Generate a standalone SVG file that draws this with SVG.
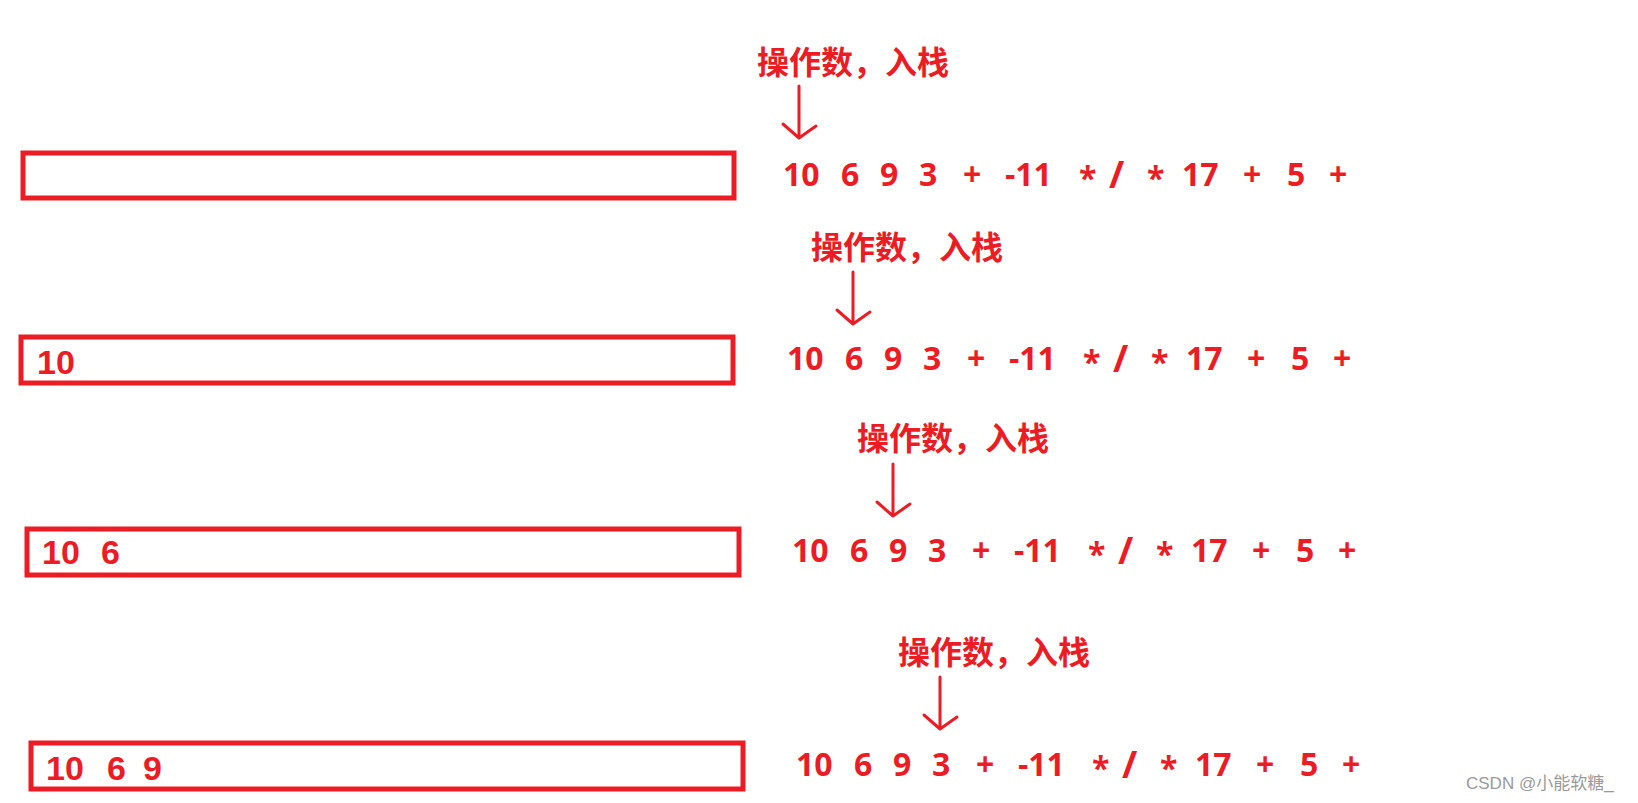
<svg xmlns="http://www.w3.org/2000/svg" xmlns:xlink="http://www.w3.org/1999/xlink" width="1638" height="803" viewBox="0 0 1638 803">
<style>
.box{fill:#fff;stroke:#ED1C24;stroke-width:5}
.lbl{font-family:"Noto Sans CJK SC","Microsoft YaHei",sans-serif;font-weight:bold;font-size:32px;fill:#ED1C24}
.ex{font-family:"Open Sans","Noto Sans",sans-serif;font-weight:bold;font-size:32px;fill:#ED1C24}
.sl{font-size:37px}
.st{font-family:"Liberation Sans",Arial,sans-serif;font-weight:bold;font-size:34px;fill:#ED1C24}
.arr{fill:none;stroke:#ED1C24;stroke-width:3;stroke-linecap:round;stroke-linejoin:round}
.wm{font-family:"Liberation Sans","Noto Sans CJK SC",sans-serif;font-size:17px;fill:#9a9a9a}
</style>
<defs>
<g id="expr" class="ex">
<text x="0" y="0">10</text>
<text x="58" y="0">6</text>
<text x="97" y="0">9</text>
<text x="136" y="0">3</text>
<text x="180" y="0">+</text>
<text x="222" y="0">-11</text>
<text x="296" y="4">*</text>
<text class="sl" x="326" y="2">/</text>
<text x="364" y="4">*</text>
<text x="399" y="0">17</text>
<text x="460" y="0">+</text>
<text x="504" y="0">5</text>
<text x="546" y="0">+</text>
</g>
<path id="arrow" class="arr" d="M0,0 V52 M-16,38 L0,52 L17,40"/>
</defs>
<g id="row1">
<rect class="box" x="23" y="153" width="711" height="45"/>
<text class="lbl" x="757" y="74">操作数，入栈</text>
<use xlink:href="#expr" x="783" y="186"/>
</g>
<g id="row2">
<rect class="box" x="21" y="337" width="712" height="46"/>
<text class="st" x="37" y="374">10</text>
<text class="lbl" x="811" y="259">操作数，入栈</text>
<use xlink:href="#expr" x="787" y="370"/>
</g>
<g id="row3">
<rect class="box" x="27" y="529" width="712" height="46"/>
<text class="st" x="42" y="564">10</text>
<text class="st" x="101" y="564">6</text>
<text class="lbl" x="857" y="450">操作数，入栈</text>
<use xlink:href="#expr" x="792" y="562"/>
</g>
<g id="row4">
<rect class="box" x="31" y="743" width="712" height="46"/>
<text class="st" x="46" y="780">10</text>
<text class="st" x="107" y="780">6</text>
<text class="st" x="143" y="780">9</text>
<text class="lbl" x="898" y="664">操作数，入栈</text>
<use xlink:href="#expr" x="796" y="776"/>
</g>
<g id="connectors">
<use xlink:href="#arrow" x="799" y="86"/>
<use xlink:href="#arrow" x="853" y="272"/>
<use xlink:href="#arrow" x="893" y="464"/>
<use xlink:href="#arrow" x="940" y="677"/>
</g>
<text class="wm" x="1466" y="789">CSDN @小能软糖_</text>
</svg>
